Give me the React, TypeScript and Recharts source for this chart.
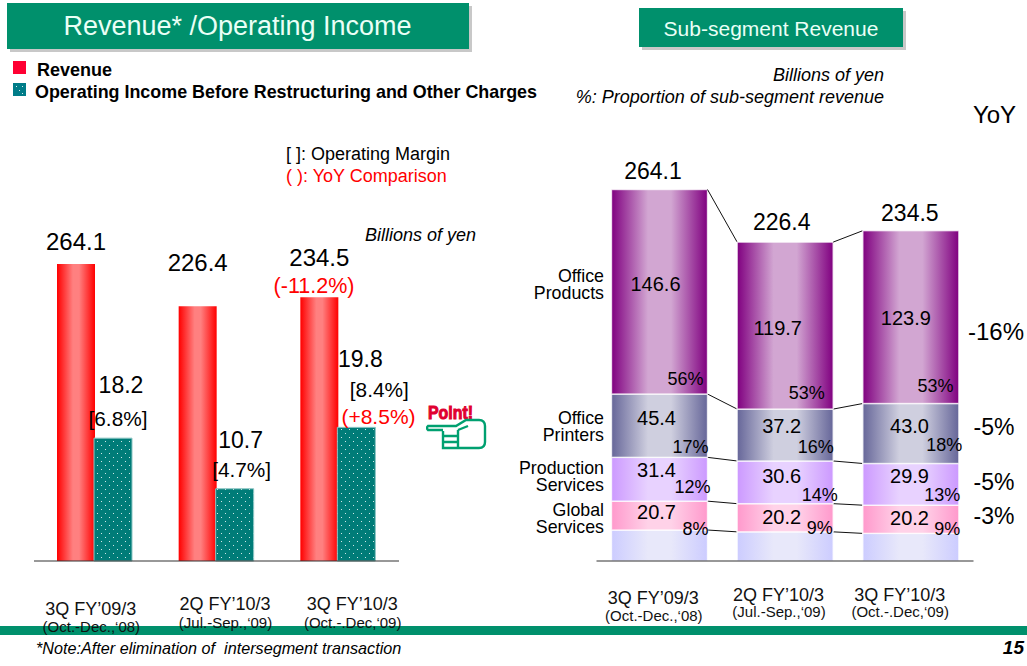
import { BarChart, Bar, XAxis, YAxis, LabelList } from 'recharts'

const FONT = '"Liberation Sans", Arial, sans-serif'
const GREEN = '#00906c'

const periods = ["3Q FY'09/3", "2Q FY'10/3", "3Q FY'10/3"]
const periodsSub = ["(Oct.-Dec.,'08)", "(Jul.-Sep.,'09)", "(Oct.-.Dec,'09)"]

// left chart
const revenue = [264.1, 226.4, 234.5]
const operatingIncome = [18.2, 10.7, 19.8]
const margins = ['[6.8%]', '[4.7%]', '[8.4%]']

// right chart
const totals = ['264.1', '226.4', '234.5']
const officeProducts = [146.6, 119.7, 123.9]
const officePrinters = [45.4, 37.2, 43.0]
const productionServices = [31.4, 30.6, 29.9]
const globalServices = [20.7, 20.2, 20.2]
const otherServices = [22.2, 20.9, 19.8]
const officeProductsPct = ['56%', '53%', '53%']
const officePrintersPct = ['17%', '16%', '18%']
const productionPct = ['12%', '14%', '13%']
const globalPct = ['8%', '9%', '9%']
const yoyRight = ['-16%', '-5%', '-5%', '-3%']
const segmentNames = [['Office', 'Products'], ['Office', 'Printers'], ['Production', 'Services'], ['Global', 'Services']]

const leftData = periods.map((p, i) => ({
  period: p,
  revenue: revenue[i],
  operatingIncome: operatingIncome[i],
}))

const rightData = periods.map((p, i) => ({
  period: p,
  other: otherServices[i],
  global: globalServices[i],
  production: productionServices[i],
  printers: officePrinters[i],
  office: officeProducts[i],
}))

const stackOrder = ['other', 'global', 'production', 'printers', 'office']

function stackTop(key: string, i: number) {
  let sum = 0
  for (const k of stackOrder) {
    sum += (rightData[i] as any)[k]
    if (k === key) break
  }
  return sum
}

const RIGHT_W = 517
const RIGHT_M = { top: 161, right: 53.5, bottom: 75, left: 86.5 }
const RIGHT_STEP = (RIGHT_W - RIGHT_M.left - RIGHT_M.right) / 3

// rectangle of a stacked segment plus the line running to the same segment in the next bar
function segmentShape(key: string) {
  return (props: any) => {
    const { x, y, width, height, index, fill } = props
    const value = (rightData[index] as any)[key]
    const ppu = height / value
    const base = y + height + (stackTop(key, index) - value) * ppu
    const next = index < 2 ? base - stackTop(key, index + 1) * ppu : 0
    return (
      <g>
        <rect x={x} y={y} width={width} height={height} fill={fill} stroke="#ffffff" strokeOpacity={0.75} strokeWidth={1.4} />
        {index < 2 && (
          <line x1={x + width} y1={y} x2={x + RIGHT_STEP} y2={next} stroke="#111" strokeWidth={1} />
        )}
      </g>
    )
  }
}

// hand placed text relative to a bar's top centre, as in the slide
function placed(texts: string[], offsets: number[][], size: number, color = '#000') {
  return (props: any) => {
    const { x, y, width, index } = props
    return (
      <text
        x={x + width / 2 + offsets[index][0]}
        y={y + offsets[index][1]}
        textAnchor="middle"
        dominantBaseline="central"
        fontFamily={FONT}
        fontSize={size}
        fill={color}
      >
        {texts[index]}
      </text>
    )
  }
}

function axisTick(subs: string[], offs: number[][]) {
  return (props: any) => {
    const { x, y, index, payload } = props
    const o = offs[index]
    return (
      <g fontFamily={FONT} fill="#111" textAnchor="middle">
        <text x={x + o[0]} y={y + o[1]} dominantBaseline="central" fontSize={18}>
          {payload.value.replace("'", '\u2019')}
        </text>
        <text x={x + o[0] + 0.5} y={y + o[2]} dominantBaseline="central" fontSize={15}>
          {subs[index].replace("'", '\u2018')}
        </text>
      </g>
    )
  }
}

function Note({ x, y, size, anchor = 'left', color = '#000', bold, italic, children, leading = 0.9 }: any) {
  const tx = anchor === 'center' ? '-50%' : anchor === 'right' ? '-100%' : '0'
  return (
    <div
      style={{
        position: 'absolute',
        left: x,
        top: y,
        transform: `translate(${tx}, -50%)`,
        fontFamily: FONT,
        fontSize: size,
        color,
        fontWeight: bold ? 'bold' : 'normal',
        fontStyle: italic ? 'italic' : 'normal',
        whiteSpace: 'pre',
        lineHeight: leading,
        textAlign: anchor,
      }}
    >
      {children}
    </div>
  )
}

function Box({ x, y, w, h, fill }: any) {
  return <div style={{ position: 'absolute', left: x, top: y, width: w, height: h, background: fill }} />
}

function Gradient({ id, edge, mid, a = 0.38 }: { id: string; edge: string; mid: string; a?: number }) {
  return (
    <linearGradient id={id} x1="0" y1="0" x2="1" y2="0">
      <stop offset="0" stopColor={edge} />
      <stop offset={a} stopColor={mid} />
      <stop offset={1 - a} stopColor={mid} />
      <stop offset="1" stopColor={edge} />
    </linearGradient>
  )
}

function DotPattern({ id }: { id: string }) {
  return (
    <pattern id={id} width="8" height="8" patternUnits="userSpaceOnUse">
      <rect width="8" height="8" fill="#007c78" />
      <rect x="1" y="1" width="1" height="1" fill="#cfe8e6" />
      <rect x="5" y="5" width="1" height="1" fill="#cfe8e6" />
    </pattern>
  )
}

function PointIcon() {
  return (
    <svg width="62" height="48" style={{ position: 'absolute', left: 426, top: 404 }}>
      <text x="2" y="15" fontFamily={FONT} fontSize="18" fontWeight="bold" fill="#e00030" stroke="#e00030" strokeWidth="1" textLength="45" lengthAdjust="spacingAndGlyphs">
        Point!
      </text>
      <g fill="#fff" stroke="#00a070" strokeWidth="2.4">
        <path d="M17 27 L17 44 L53 44 Q59 44 59 38 L59 22 Q59 16 53 16 L40 16 L30 22 L2 22 Q0 24 2 26 L17 26" />
        <path d="M17 32 L32 32 M17 38 L32 38 M32 26 L32 44" fill="none" />
        <path d="M32 26 L42 22" fill="none" />
      </g>
    </svg>
  )
}

export default function App() {
  const leftOffsets = [[0, -22], [0, -44], [0, -40]]
  const incomeOffsets = [[8, -53], [6, -49], [4, -68]]
  const marginOffsets = [[5, -20], [7, -19], [23, -38]]
  const officeVal = [[-4, 94.5], [-7.5, 85.7], [-5, 87]]
  const officePct = [[26, 189.5], [21.5, 151], [24.7, 155.3]]
  const totalOff = [[-6.5, -19], [-3.5, -20], [-1, -18]]
  const printersVal = [[-3, 23.5], [-3.5, 17], [-1.3, 22.3]]
  const printersPct = [[31, 52.5], [30.5, 38], [33.5, 41.3]]
  const productionVal = [[-3, 12.3], [-3.5, 15], [-1.3, 13]]
  const productionPc = [[33, 30], [34.5, 34], [31.5, 32]]
  const globalVal = [[-3, 10.4], [-3.5, 13.7], [-1.3, 13]]
  const globalPc = [[36, 27.4], [34.5, 24.7], [36.5, 24]]

  return (
    <div style={{ position: 'absolute', left: 0, top: 0, width: 1027, height: 666, background: '#fff', overflow: 'hidden' }}>
      <Box x={0} y={626} w={1027} h={9} fill={GREEN} />

      <div style={{ position: 'absolute', left: 0, top: 0 }}>
        <BarChart
          width={510}
          height={666}
          data={leftData}
          barSize={38}
          barGap={-1}
          margin={{ top: 223.5, right: 111, bottom: 75, left: 34 }}
        >
          <defs>
            <Gradient id="redFill" edge="#ff0000" mid="#ff8080" a={0.42} />
            <DotPattern id="tealDots" />
          </defs>
          <XAxis
            dataKey="period"
            axisLine={{ stroke: '#333', strokeWidth: 1.2 }}
            tickLine={false}
            interval={0}
            tick={axisTick(periodsSub, [[-4, 39.7, 57], [8.5, 35, 53], [14, 35, 53]]) as any}
            height={30}
          />
          <YAxis yAxisId="rev" hide domain={[0, 300]} />
          <YAxis yAxisId="inc" hide domain={[0, 50]} />
          <Bar yAxisId="rev" dataKey="revenue" fill="url(#redFill)" isAnimationActive={false}>
            <LabelList dataKey="revenue" content={placed(revenue.map((v) => v.toFixed(1)), leftOffsets, 24) as any} />
          </Bar>
          <Bar yAxisId="inc" dataKey="operatingIncome" fill="url(#tealDots)" stroke="#8cc6c4" isAnimationActive={false}>
            <LabelList dataKey="operatingIncome" content={placed(operatingIncome.map((v) => v.toFixed(1)), incomeOffsets, 23) as any} />
            <LabelList dataKey="operatingIncome" position="top" content={placed(margins, marginOffsets, 20.8) as any} />
          </Bar>
        </BarChart>
      </div>

      <div style={{ position: 'absolute', left: 510, top: 0 }}>
        <BarChart width={RIGHT_W} height={666} data={rightData} barSize={96} margin={RIGHT_M}>
          <defs>
            <Gradient id="purpleFill" edge="#800080" mid="#d2a6d2" />
            <Gradient id="slateFill" edge="#666699" mid="#cfcfdf" />
            <Gradient id="lilacFill" edge="#cc99ff" mid="#e8d2ff" />
            <Gradient id="pinkFill" edge="#ff99cc" mid="#ffd2e8" />
            <Gradient id="paleFill" edge="#ccccff" mid="#e8e8fa" />
          </defs>
          <XAxis
            dataKey="period"
            axisLine={{ stroke: '#333', strokeWidth: 1.2 }}
            tickLine={false}
            interval={0}
            tick={axisTick(periodsSub, [[-6, 29, 46], [-6.5, 26, 42], [-11, 26, 42]]) as any}
            height={30}
          />
          <YAxis hide domain={[0, 286.74]} />
          <Bar dataKey="other" stackId="s" fill="url(#paleFill)" shape={segmentShape('other')} isAnimationActive={false} />
          <Bar dataKey="global" stackId="s" fill="url(#pinkFill)" shape={segmentShape('global')} isAnimationActive={false}>
            <LabelList dataKey="global" content={placed(globalServices.map((v) => v.toFixed(1)), globalVal, 20) as any} />
            <LabelList dataKey="global" position="top" content={placed(globalPct, globalPc, 18) as any} />
          </Bar>
          <Bar dataKey="production" stackId="s" fill="url(#lilacFill)" shape={segmentShape('production')} isAnimationActive={false}>
            <LabelList dataKey="production" content={placed(productionServices.map((v) => v.toFixed(1)), productionVal, 20) as any} />
            <LabelList dataKey="production" position="top" content={placed(productionPct, productionPc, 18) as any} />
          </Bar>
          <Bar dataKey="printers" stackId="s" fill="url(#slateFill)" shape={segmentShape('printers')} isAnimationActive={false}>
            <LabelList dataKey="printers" content={placed(officePrinters.map((v) => v.toFixed(1)), printersVal, 20) as any} />
            <LabelList dataKey="printers" position="top" content={placed(officePrintersPct, printersPct, 18) as any} />
          </Bar>
          <Bar dataKey="office" stackId="s" fill="url(#purpleFill)" shape={segmentShape('office')} isAnimationActive={false}>
            <LabelList dataKey="office" content={placed(officeProducts.map((v) => v.toFixed(1)), officeVal, 20) as any} />
            <LabelList dataKey="office" position="top" content={placed(officeProductsPct, officePct, 18) as any} />
            <LabelList dataKey="office" position="insideTop" content={placed(totals, totalOff, 23) as any} />
          </Bar>
        </BarChart>
      </div>

      {/* slide furniture */}
      <Box x={10} y={6} w={462} h={46} fill="#c8c8c8" />
      <Box x={7} y={3} w={462} h={46} fill={GREEN} />
      <Note x={237.5} y={26} size={27} anchor="center" color="#eafff6">Revenue* /Operating Income</Note>

      <Box x={642} y={11} w={264} h={39} fill="#c8c8c8" />
      <Box x={639} y={8} w={264} h={39} fill={GREEN} />
      <Note x={771} y={29} size={21} anchor="center" color="#eafff6">Sub-segment Revenue</Note>

      <Box x={13} y={61} w={13} h={13} fill="#ff0033" />
      <svg width={13} height={13} style={{ position: 'absolute', left: 13, top: 83 }}>
        <rect width={13} height={13} fill="#007c88" />
        <rect x={3} y={3} width={1} height={1} fill="#d8eeee" />
        <rect x={9} y={3} width={1} height={1} fill="#d8eeee" />
        <rect x={6} y={7} width={1} height={1} fill="#d8eeee" />
        <rect x={9} y={10} width={1} height={1} fill="#d8eeee" />
      </svg>
      <Note x={37} y={70} size={18} bold>Revenue</Note>
      <Note x={35} y={92} size={17.9} bold>Operating Income Before Restructuring and Other Charges</Note>

      <Note x={286} y={154} size={18}>[ ]: Operating Margin</Note>
      <Note x={286} y={176} size={18} color="#ff0000">( ): YoY Comparison</Note>
      <Note x={365} y={235} size={18} italic>Billions of yen</Note>
      <Note x={884} y={75} size={18} italic anchor="right">Billions of yen</Note>
      <Note x={884} y={97} size={18} italic anchor="right">%: Proportion of sub-segment revenue</Note>
      <Note x={994.5} y={115} size={24} anchor="center">YoY</Note>

      <Note x={314} y={287} size={21.5} anchor="center" color="#ff0000">(-11.2%)</Note>
      <Note x={378.5} y={417} size={21} anchor="center" color="#ff0000">(+8.5%)</Note>
      <PointIcon />

      {segmentNames.map((lines, i) => (
        <Note key={lines[0] + i} x={604} y={[285, 426.5, 476.5, 518.5][i]} size={17.8} anchor="right" leading="17.4px">
          {lines[0] + '\n' + lines[1]}
        </Note>
      ))}
      {yoyRight.map((t, i) => (
        <Note key={i} x={i === 0 ? 996 : 994} y={[332, 427, 482, 516][i]} size={i === 0 ? 24 : 23} anchor="center">{t}</Note>
      ))}

      <Note x={36} y={648} size={16.2} italic>*Note:After elimination of  intersegment transaction</Note>
      <Note x={1024} y={648} size={19} italic bold anchor="right">15</Note>
    </div>
  )
}
